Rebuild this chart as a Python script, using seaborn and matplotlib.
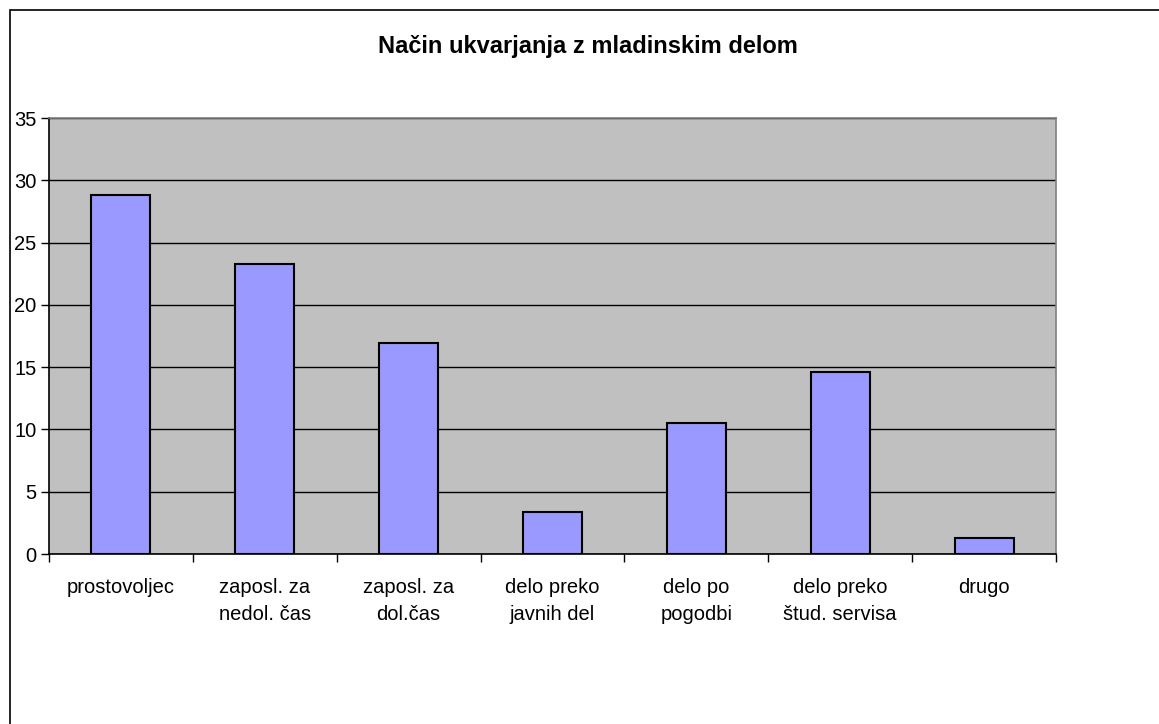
import matplotlib
matplotlib.use("Agg")
import matplotlib.pyplot as plt
from matplotlib.patches import Rectangle
import seaborn as sns
import pandas as pd
import numpy as np

categories = ["prostovoljec", "zaposl. za\nnedol. čas", "zaposl. za\ndol.čas",
              "delo preko\njavnih del", "delo po\npogodbi", "delo preko\nštud. servisa", "drugo"]
values = [28.8, 23.25, 16.9, 3.4, 10.5, 14.65, 1.3]
yticks = [0, 5, 10, 15, 20, 25, 30, 35]
title = "Način ukvarjanja z mladinskim delom"

sns.set_theme(style="white")
plt.rcParams['font.family'] = ['Liberation Sans', 'DejaVu Sans']

df = pd.DataFrame({"cat": categories, "val": values})

fig = plt.figure(figsize=(11.59, 7.24), dpi=100)
ax = fig.add_axes([49/1159, 1-554/724, (1056-49)/1159, (554-118)/724])
ax.set_facecolor("#C0C0C0")
ax.set_axisbelow(True)
ax.yaxis.grid(True, color="black", linewidth=1.0)
ax.xaxis.grid(False)

sns.barplot(data=df, x="cat", y="val", ax=ax, color="#9999FF", saturation=1,
            width=0.41, edgecolor="black", linewidth=1.5, zorder=3)

ax.set_xlim(-0.5, len(categories) - 0.5)
ax.set_ylim(0, 35)
ax.set_yticks(yticks)
ax.set_yticklabels([str(t) for t in yticks], fontsize=14.5, color="black")
ax.tick_params(axis="y", which="major", direction="out", length=6, width=1, color="black", pad=3, left=True)
ax.set_xticks(range(len(categories)))
ax.set_xticklabels(categories, fontsize=14.5, color="black", linespacing=1.55)
ax.tick_params(axis="x", which="major", length=0, pad=17)
ax.set_xticks(np.arange(-0.5, len(categories), 1.0), minor=True)
ax.tick_params(axis="x", which="minor", direction="out", length=6, width=1, color="black", bottom=True)
ax.set_xlabel("")
ax.set_ylabel("")

for side in ["left", "bottom"]:
    ax.spines[side].set_visible(True)
    ax.spines[side].set_color("black")
    ax.spines[side].set_linewidth(1.2)
for side in ["top", "right"]:
    ax.spines[side].set_visible(True)
    ax.spines[side].set_color("#808080")
    ax.spines[side].set_linewidth(1.2)

fig.text(588/1159, 1-47/724, title, ha="center", va="center", fontsize=17,
         fontweight="bold", color="black")

# outer chart border (only top and left visible in frame)
fig.patches.append(Rectangle((10/1159, -0.1), 1.2, 1 - 10/724 + 0.1, transform=fig.transFigure,
                             fill=False, edgecolor="black", linewidth=1.2))

fig.savefig("out.png", dpi=100, facecolor="white")
